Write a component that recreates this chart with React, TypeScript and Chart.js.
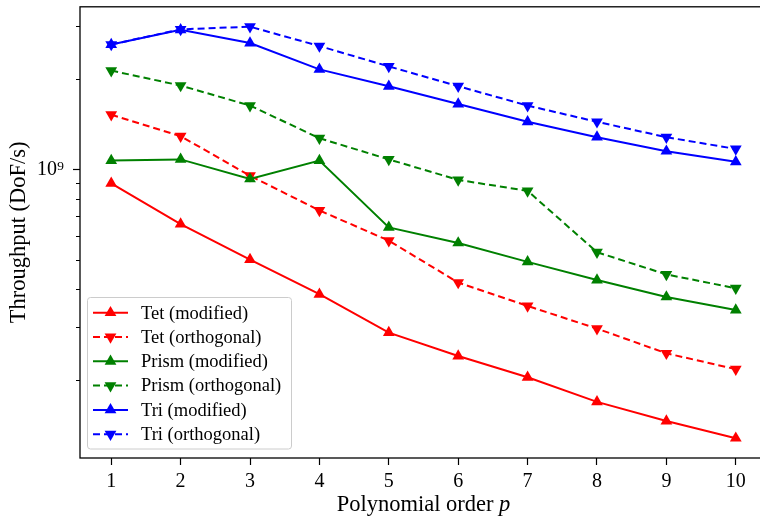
import React, { useEffect, useRef } from "react";
import { Chart, registerables } from "chart.js";
import { drawPoint } from "chart.js/helpers";

Chart.register(...registerables);

const orders = [1, 2, 3, 4, 5, 6, 7, 8, 9, 10];
const tetModified = [8.99e8, 6.58e8, 5.02e8, 3.85e8, 2.87e8, 2.40e8, 2.04e8, 1.69e8, 1.46e8, 1.28e8];
const tetOrthogonal = [1.52e9, 1.29e9, 9.53e8, 7.31e8, 5.80e8, 4.21e8, 3.52e8, 2.96e8, 2.45e8, 2.17e8];
const prismModified = [1.07e9, 1.08e9, 9.3e8, 1.07e9, 6.42e8, 5.7e8, 4.93e8, 4.29e8, 3.77e8, 3.41e8];
const prismOrthogonal = [2.13e9, 1.9e9, 1.63e9, 1.27e9, 1.08e9, 9.23e8, 8.49e8, 5.31e8, 4.48e8, 4.03e8];
const triModified = [2.6e9, 2.91e9, 2.63e9, 2.15e9, 1.89e9, 1.65e9, 1.44e9, 1.28e9, 1.15e9, 1.06e9];
const triOrthogonal = [2.6e9, 2.92e9, 2.98e9, 2.57e9, 2.2e9, 1.89e9, 1.63e9, 1.44e9, 1.28e9, 1.17e9];

const xTicks = [1, 2, 3, 4, 5, 6, 7, 8, 9, 10];
const yMajorTicks = [1e9];
const yMinorTicks = [2e8, 3e8, 4e8, 5e8, 6e8, 7e8, 8e8, 9e8, 2e9, 3e9];
const xTitleMain = "Polynomial order ";
const xTitleVar = "p";

const FONT = "'Liberation Serif', 'DejaVu Serif', serif";
const MARKER_R = 6.8;

function mk(label: string, data: number[], color: string, dashed: boolean, idx: number) {
  return {
    label,
    data: data.map((v, i) => ({ x: orders[i], y: v })),
    borderColor: color,
    backgroundColor: color,
    borderWidth: 2,
    borderDash: dashed ? [7, 4] : [],
    pointStyle: "triangle",
    rotation: dashed ? 180 : 0,
    pointRadius: MARKER_R,
    pointBorderWidth: 0,
    pointBackgroundColor: color,
    tension: 0,
    order: 10 - idx,
  };
}

const framePlugin = {
  id: "framePlugin",
  afterDraw(chart: any) {
    const ctx = chart.ctx;
    const a = chart.chartArea;
    const y = chart.scales.y;
    ctx.save();
    ctx.strokeStyle = "#000";
    ctx.lineWidth = 1;
    yMinorTicks.forEach((v) => {
      const py = Math.round(y.getPixelForValue(v)) + 0.5;
      ctx.beginPath();
      ctx.moveTo(a.left - 4, py);
      ctx.lineTo(a.left, py);
      ctx.stroke();
    });
    ctx.lineWidth = 1.3;
    ctx.strokeRect(a.left, a.top, a.right - a.left, a.bottom - a.top);

    // x-axis title with italic variable
    ctx.fillStyle = "#000";
    ctx.textBaseline = "middle";
    ctx.textAlign = "left";
    const fMain = `22.5px ${FONT}`;
    const fVar = `italic 22.5px ${FONT}`;
    ctx.font = fMain;
    const w1 = ctx.measureText(xTitleMain).width;
    ctx.font = fVar;
    const w2 = ctx.measureText(xTitleVar).width;
    const cx = (a.left + a.right) / 2;
    const x0 = cx - (w1 + w2) / 2;
    const ty = 505.5;
    ctx.font = fMain;
    ctx.fillText(xTitleMain, x0, ty);
    ctx.font = fVar;
    ctx.fillText(xTitleVar, x0 + w1, ty);

    // legend
    const bx = 87.5, by = 297.5, bw = 204, bh = 151.5;
    ctx.beginPath();
    if ((ctx as any).roundRect) (ctx as any).roundRect(bx, by, bw, bh, 3);
    else ctx.rect(bx, by, bw, bh);
    ctx.fillStyle = "rgba(255,255,255,0.8)";
    ctx.fill();
    ctx.strokeStyle = "#cccccc";
    ctx.lineWidth = 1;
    ctx.stroke();
    chart.data.datasets.forEach((ds: any, i: number) => {
      const ly = 312.7 + i * 24.3;
      ctx.strokeStyle = ds.borderColor;
      ctx.lineWidth = 2;
      ctx.setLineDash(ds.borderDash || []);
      ctx.beginPath();
      ctx.moveTo(93, ly);
      ctx.lineTo(128, ly);
      ctx.stroke();
      ctx.setLineDash([]);
      ctx.fillStyle = ds.borderColor;
      drawPoint(ctx, { pointStyle: "triangle", rotation: ds.rotation, radius: MARKER_R, borderWidth: 0 } as any, 110.5, ly);
      ctx.fillStyle = "#000";
      ctx.font = `18.5px ${FONT}`;
      ctx.textBaseline = "middle";
      ctx.textAlign = "left";
      ctx.fillText(ds.label, 141, ly + 1);
    });
    ctx.restore();
  },
};

export default function App() {
  const ref = useRef<HTMLCanvasElement>(null);
  useEffect(() => {
    if (!ref.current) return;
    const chart = new Chart(ref.current, {
      type: "line",
      data: {
        datasets: [
          mk("Tet (modified)", tetModified, "#ff0000", false, 0),
          mk("Tet (orthogonal)", tetOrthogonal, "#ff0000", true, 1),
          mk("Prism (modified)", prismModified, "#008000", false, 2),
          mk("Prism (orthogonal)", prismOrthogonal, "#008000", true, 3),
          mk("Tri (modified)", triModified, "#0000ff", false, 4),
          mk("Tri (orthogonal)", triOrthogonal, "#0000ff", true, 5),
        ] as any,
      },
      options: {
        responsive: false,
        animation: false,
        devicePixelRatio: 1,
        layout: { padding: { top: 4, right: 8, left: 0, bottom: 0 } },
        plugins: { legend: { display: false }, tooltip: { enabled: false } },
        scales: {
          x: {
            type: "linear",
            min: 0.55,
            max: 10.45,
            afterBuildTicks: (s: any) => {
              s.ticks = xTicks.map((v) => ({ value: v }));
            },
            afterFit: (s: any) => {
              s.height = 63;
              s.paddingLeft = 0;
              s.paddingRight = 0;
            },
            ticks: {
              color: "#000",
              font: { family: FONT, size: 20 },
              padding: 5,
              maxRotation: 0,
              callback: (v: any) => String(v),
            },
            grid: { drawOnChartArea: false, drawTicks: true, tickLength: 7, tickColor: "#000", tickWidth: 1.2 },
            border: { display: false },
            title: { display: false },
          },
          y: {
            type: "logarithmic",
            min: 1.1e8,
            max: 3.47e9,
            afterBuildTicks: (s: any) => {
              s.ticks = yMajorTicks.map((v) => ({ value: v, major: true }));
            },
            afterFit: (s: any) => {
              s.width = 80;
              s.paddingTop = 0;
              s.paddingBottom = 0;
            },
            ticks: {
              color: "#000",
              font: { family: FONT, size: 20 },
              padding: 9,
              callback: () => "10\u2079",
            },
            grid: { drawOnChartArea: false, drawTicks: true, tickLength: 7, tickColor: "#000", tickWidth: 1.2 },
            border: { display: false },
            title: {
              display: true,
              text: "Throughput (DoF/s)",
              color: "#000",
              font: { family: FONT, size: 22.5 },
              padding: { top: 6, bottom: 0 },
            },
          },
        },
      },
      plugins: [framePlugin],
    });
    return () => chart.destroy();
  }, []);
  return (
    <div style={{ position: "absolute", left: 0, top: 0, width: 760, height: 521, overflow: "hidden", background: "#fff" }}>
      <canvas ref={ref} width={775} height={521} style={{ width: 775, height: 521, display: "block" }} />
    </div>
  );
}
